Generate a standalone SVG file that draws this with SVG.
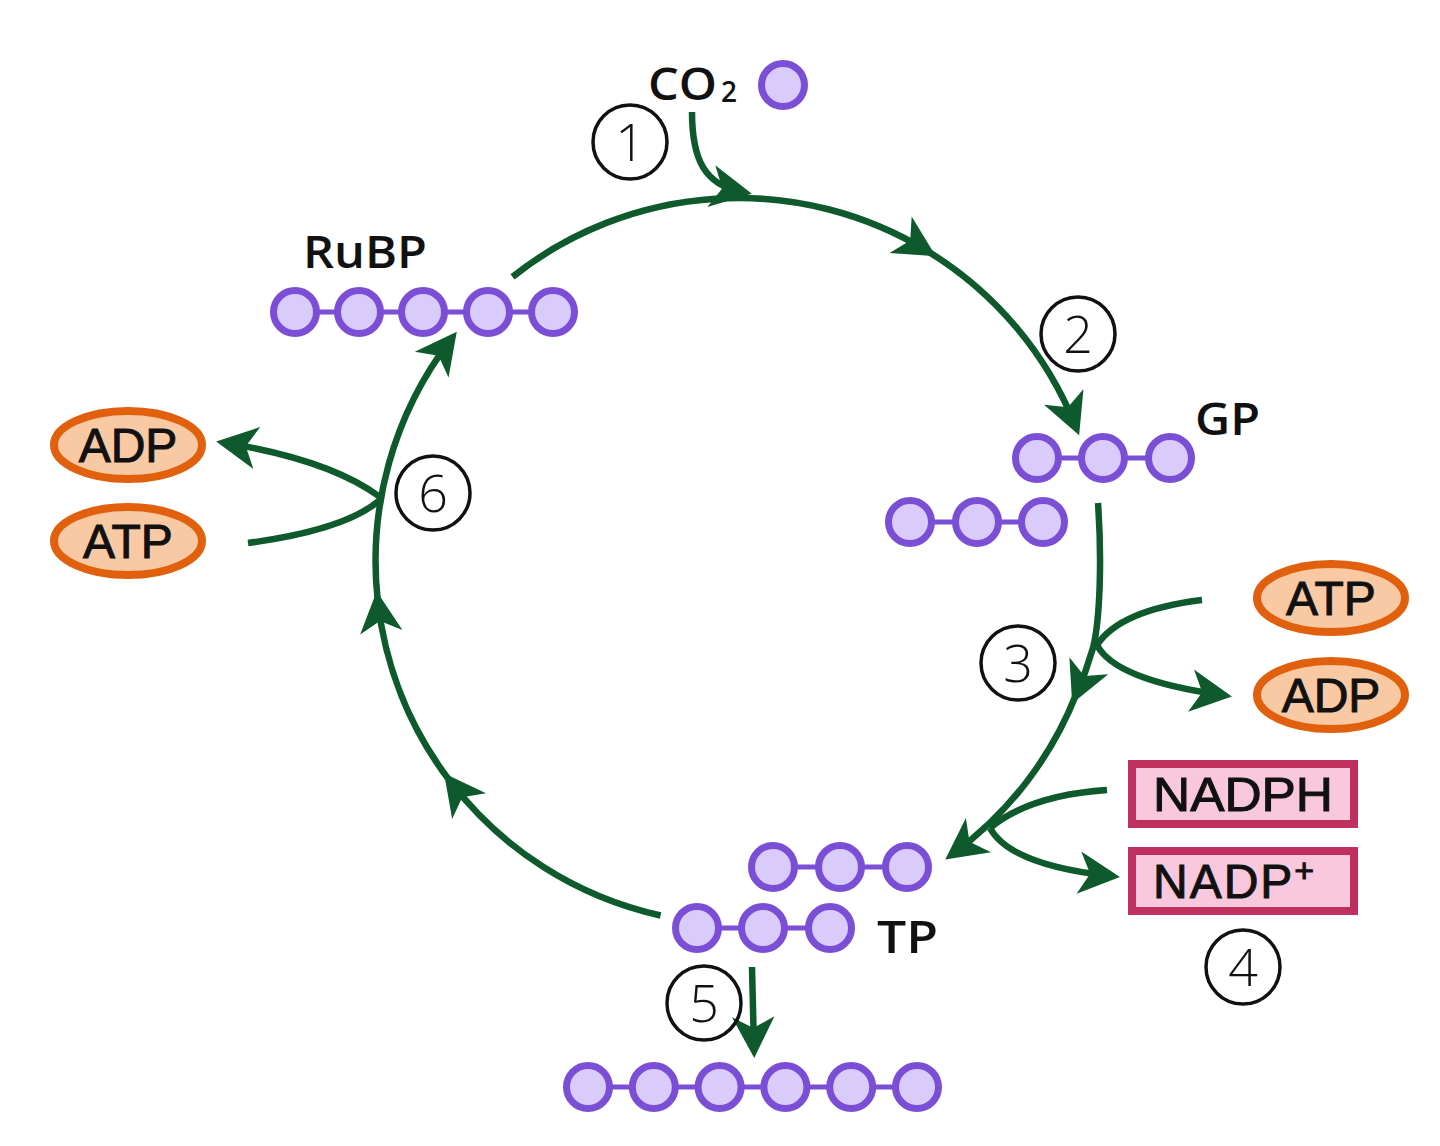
<svg xmlns="http://www.w3.org/2000/svg" width="1440" height="1146" viewBox="0 0 1440 1146">
<defs>
<style>
.arc{fill:none;stroke:#0e5a2c;stroke-width:6.5;stroke-linecap:butt}
.mol line{stroke:#7a4fd6;stroke-width:5}
.mol circle{fill:#d9ccfa;stroke:#7a4fd6;stroke-width:7}
.num circle{fill:none;stroke:#111;stroke-width:3.5}
.num text{font-family:"Open Sans","Noto Sans",sans-serif;font-weight:300;font-size:52px;text-anchor:middle;fill:#111}
.lbl{font-family:"Open Sans","Noto Sans",sans-serif;font-weight:600;font-size:46px;fill:#111}
.ell ellipse{fill:#f9c9a3;stroke:#e0600e;stroke-width:8}
.ell text,.box text{font-family:"Liberation Sans",Arial,sans-serif;font-size:48px;text-anchor:middle;fill:#111;stroke:#111;stroke-width:1}
.box rect{fill:#f9c8dc;stroke:#c0305f;stroke-width:8}
</style>
<marker id="ah" markerUnits="userSpaceOnUse" markerWidth="50" markerHeight="50" viewBox="-30 -20 40 40" refX="0" refY="0" orient="auto">
<path d="M8,0 L-25,-17 L-16,0 L-25,17 Z" fill="#0e5a2c"/>
</marker>
</defs>
<rect width="1440" height="1146" fill="#fff"/>

<g id="connectors">
<path class="arc" d="M512.5,276.9 A363,363 0 0 1 927.3,251.0" marker-end="url(#ah)"/>
<path class="arc" d="M927.3,251.0 A363,363 0 0 1 1075.4,425.9" marker-end="url(#ah)"/>
<path class="arc" d="M1098,503 C1102,560 1100,620 1093,648 A363,363 0 0 1 1076.2,694.3" marker-end="url(#ah)"/>
<path class="arc" d="M1076.2,694.3 A363,363 0 0 1 953.3,853.7" marker-end="url(#ah)"/>
<path class="arc" d="M660.6,915.5 A363,363 0 0 1 450.1,781.3" marker-end="url(#ah)"/>
<path class="arc" d="M450.1,781.3 A363,363 0 0 1 377.8,601.2" marker-end="url(#ah)"/>
<path class="arc" d="M377.8,601.2 A363,363 0 0 1 450.7,339.8" marker-end="url(#ah)"/>
<path class="arc" d="M692,112 C692,160 705,185 742,192" marker-end="url(#ah)"/>
<path class="arc" d="M1202,600 Q1120,610 1097,645"/>
<path class="arc" d="M1097,645 Q1115,680 1222,695" marker-end="url(#ah)"/>
<path class="arc" d="M1107,790 Q1030,795 990,828"/>
<path class="arc" d="M990,828 Q1010,865 1110,876" marker-end="url(#ah)"/>
<path class="arc" d="M248,543 Q345,530 380,500"/>
<path class="arc" d="M380,497 Q330,460 226,443" marker-end="url(#ah)"/>
<path class="arc" d="M752,967 L754,1048" marker-end="url(#ah)"/>
</g>

<g id="co2">
<text class="lbl" x="648" y="100" textLength="69" lengthAdjust="spacingAndGlyphs">CO</text>
<text class="lbl" x="721" y="102" style="font-size:28px">2</text>
<g class="mol"><circle cx="783" cy="85" r="21.5"/></g>
</g>

<g id="rubp">
<text class="lbl" x="303" y="268" textLength="124" lengthAdjust="spacingAndGlyphs">RuBP</text>
<g class="mol">
<line x1="295" y1="312" x2="553" y2="312"/>
<circle cx="295" cy="312" r="21.5"/><circle cx="359" cy="312" r="21.5"/><circle cx="423" cy="312" r="21.5"/><circle cx="488" cy="312" r="21.5"/><circle cx="553" cy="312" r="21.5"/>
</g>
</g>

<g id="gp">
<text class="lbl" x="1195" y="435" textLength="65" lengthAdjust="spacingAndGlyphs">GP</text>
<g class="mol">
<line x1="1037" y1="458" x2="1170" y2="458"/>
<circle cx="1037" cy="458" r="21.5"/><circle cx="1103" cy="458" r="21.5"/><circle cx="1170" cy="458" r="21.5"/>
<line x1="910" y1="522" x2="1043" y2="522"/>
<circle cx="910" cy="522" r="21.5"/><circle cx="977" cy="522" r="21.5"/><circle cx="1043" cy="522" r="21.5"/>
</g>
</g>

<g id="tp">
<text class="lbl" x="877" y="953" textLength="61" lengthAdjust="spacingAndGlyphs">TP</text>
<g class="mol">
<line x1="773" y1="867" x2="907" y2="867"/>
<circle cx="773" cy="867" r="21.5"/><circle cx="840" cy="867" r="21.5"/><circle cx="907" cy="867" r="21.5"/>
<line x1="697" y1="928" x2="830" y2="928"/>
<circle cx="697" cy="928" r="21.5"/><circle cx="763" cy="928" r="21.5"/><circle cx="830" cy="928" r="21.5"/>
</g>
</g>

<g id="hexose">
<g class="mol">
<line x1="588" y1="1087" x2="917" y2="1087"/>
<circle cx="588" cy="1087" r="21.5"/><circle cx="653.8" cy="1087" r="21.5"/><circle cx="719.6" cy="1087" r="21.5"/><circle cx="785.4" cy="1087" r="21.5"/><circle cx="851.2" cy="1087" r="21.5"/><circle cx="917" cy="1087" r="21.5"/>
</g>
</g>

<g id="adp-left" class="ell"><ellipse cx="128" cy="445" rx="74" ry="34"/><text x="128" y="462">ADP</text></g>
<g id="atp-left" class="ell"><ellipse cx="128" cy="541" rx="74" ry="34"/><text x="128" y="558">ATP</text></g>
<g id="atp-right" class="ell"><ellipse cx="1331" cy="598" rx="74" ry="34"/><text x="1331" y="615">ATP</text></g>
<g id="adp-right" class="ell"><ellipse cx="1331" cy="695" rx="74" ry="34"/><text x="1331" y="712">ADP</text></g>

<g id="nadph" class="box"><rect x="1132" y="764" width="222" height="60"/><text x="1243" y="811" textLength="180" lengthAdjust="spacingAndGlyphs">NADPH</text></g>
<g id="nadp" class="box"><rect x="1132" y="851" width="222" height="60"/><text x="1153" y="898" style="text-anchor:start;letter-spacing:2px">NADP<tspan style="font-size:34px" dy="-16">+</tspan></text></g>

<g id="step1" class="num"><circle cx="630" cy="142" r="37"/><text x="630" y="161">1</text></g>
<g id="step2" class="num"><circle cx="1078" cy="334" r="37"/><text x="1078" y="353">2</text></g>
<g id="step3" class="num"><circle cx="1018" cy="663" r="37"/><text x="1018" y="682">3</text></g>
<g id="step4" class="num"><circle cx="1243" cy="967" r="37"/><text x="1243" y="986">4</text></g>
<g id="step5" class="num"><circle cx="704" cy="1003" r="37"/><text x="704" y="1022">5</text></g>
<g id="step6" class="num"><circle cx="433" cy="493" r="37"/><text x="433" y="512">6</text></g>
</svg>
